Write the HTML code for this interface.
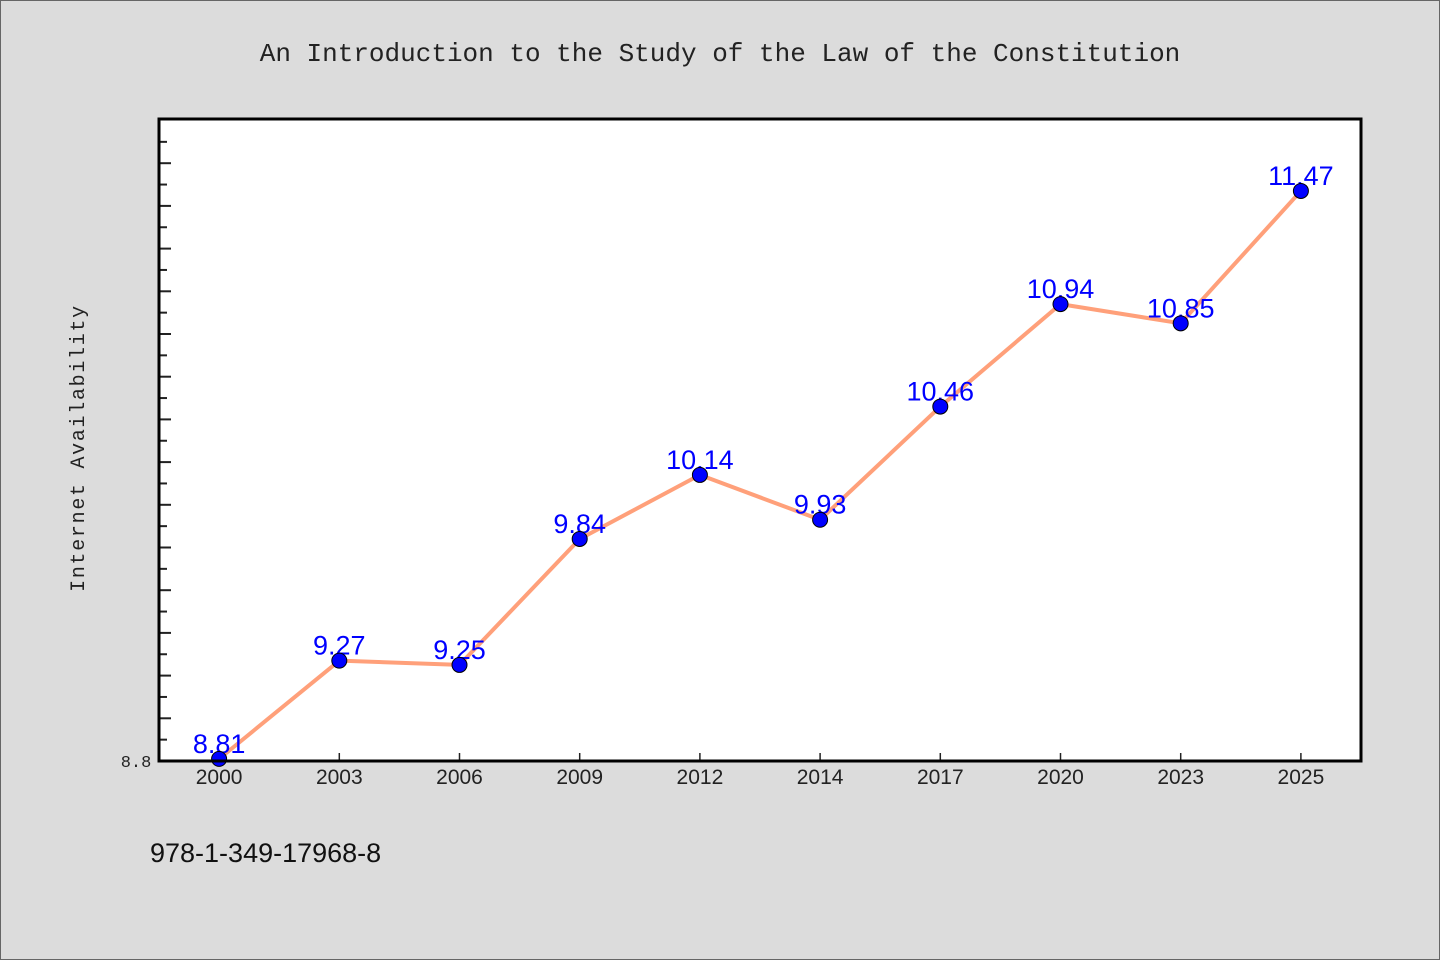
<!DOCTYPE html>
<html><head><meta charset="utf-8"><style>
body{margin:0;background:#dcdcdc;}
svg{display:block}
</style></head><body>
<svg width="1440" height="960" xmlns="http://www.w3.org/2000/svg">
<rect x="0.5" y="0.5" width="1439" height="959" fill="#dcdcdc" stroke="#666"/>
<text x="720" y="61" text-anchor="middle" font-family="Liberation Mono, monospace" font-size="26" fill="#222">An Introduction to the Study of the Law of the Constitution</text>
<rect x="159" y="119" width="1202" height="642" fill="#fff"/>
<g id="ticks"></g>
<g id="series"></g>
<rect x="159" y="119" width="1202" height="642" fill="none" stroke="#000" stroke-width="3"/>
<text transform="translate(84,448) rotate(-90)" text-anchor="middle" font-family="Liberation Mono, monospace" font-size="20" letter-spacing="1.7" fill="#222">Internet Availability</text>
<text x="136" y="767" text-anchor="middle" font-family="Liberation Mono, monospace" font-size="17" fill="#222">8.8</text>
<text x="150" y="862" font-family="Liberation Sans, sans-serif" font-size="27" fill="#111">978-1-349-17968-8</text>
</svg>
<script>
const categories = ["2000","2003","2006","2009","2012","2014","2017","2020","2023","2025"];
const values = [8.81,9.27,9.25,9.84,10.14,9.93,10.46,10.94,10.85,11.47];
const yMin = 8.8;
const L=159,R=1361,T=119,B=761,pxPerUnit=213.5;
const ns="http://www.w3.org/2000/svg";
const band=(R-L)/categories.length;
function xs(i){return L+band*(i+0.5);}
function ys(v){return B-(v-yMin)*pxPerUnit;}
const tg=document.getElementById('ticks'), sg=document.getElementById('series');
function mk(tag,attrs,parent){const e=document.createElementNS(ns,tag);for(const k in attrs)e.setAttribute(k,attrs[k]);parent.appendChild(e);return e;}
for(let k=1;;k++){const y=ys(yMin+k*0.1);if(y<T+5)break;
 const t=mk('line',{x1:L,x2:L+(k%2===0?12:8),y1:y,y2:y,stroke:'#222','stroke-width':2},tg);
 
 }
categories.forEach((c,i)=>{
 const t=mk('line',{x1:xs(i),x2:xs(i),y1:B,y2:B-8,stroke:'#222','stroke-width':1.5},tg);
 
 
 const l=mk('text',{x:xs(i),y:B+23,'text-anchor':'middle','font-family':'Liberation Sans, sans-serif','font-size':21,fill:'#222'},tg);
 l.textContent=c;
 
 
});
const pts=values.map((v,i)=>xs(i)+','+ys(v)).join(' ');
const line=mk('polyline',{points:pts,fill:'none',stroke:'#ffa07a','stroke-width':4,'stroke-linejoin':'round'},sg);


values.forEach((v,i)=>{
 const l=mk('text',{x:xs(i),y:ys(v)-6,'text-anchor':'middle','font-family':'Liberation Sans, sans-serif','font-size':27,fill:'#0000ff'},sg);
 l.textContent=v.toFixed(2);
 
 
 const c=mk('circle',{cx:xs(i),cy:ys(v),r:7.5,fill:'#0000ff',stroke:'#000','stroke-width':1},sg);
 
 
});
</script>
</body></html>
